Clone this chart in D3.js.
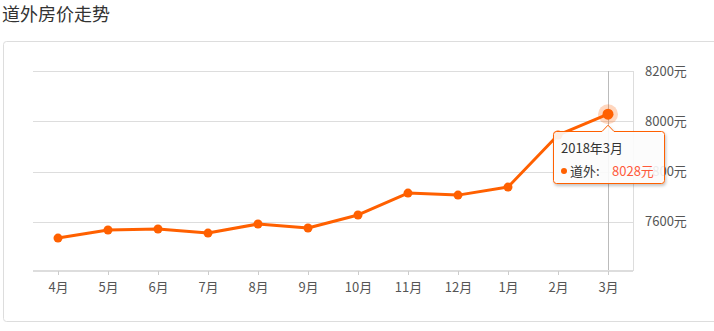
<!DOCTYPE html>
<head>
  <meta charset="utf-8">
  <script src="https://d3js.org/d3.v7.min.js"></script>
  <style>
    body { margin:0; background:#fff; font-family:"Noto Sans CJK SC", "Noto Sans", sans-serif; }
  </style>
</head>
<body>
<script>
  // data
  var title = "道外房价走势";
  var seriesName = "道外";
  var months = ["4月","5月","6月","7月","8月","9月","10月","11月","12月","1月","2月","3月"];
  var prices = [7535, 7567, 7571, 7555, 7591, 7575, 7627, 7714, 7706, 7738, 7945, 8028];
  var yTicks = [7600, 7800, 8000, 8200];
  var hoverLabel = "2018年3月";
  var hoverIndex = 11;

  var W = 714, H = 331;
  var svg = d3.select("body").append("svg")
    .attr("width", W).attr("height", H)
    .style("font-family", '"Noto Sans CJK SC", sans-serif');

  // title
  svg.append("text")
    .attr("x", 2).attr("y", 21)
    .style("font-size", "18px")
    .style("fill", "#333")
    .text(title);

  // panel
  svg.append("rect")
    .attr("x", 3.5).attr("y", 41.5)
    .attr("width", 720).attr("height", 280)
    .attr("rx", 3)
    .attr("fill", "#fff").attr("stroke", "#ddd");

  var plotL = 33, plotR = 633, plotT = 71, plotB = 271;

  var x = d3.scalePoint().domain(months).range([plotL, plotR]).padding(0.5);
  var y = d3.scaleLinear().domain([7404, 8200]).range([plotB, plotT]);

  // gridlines
  svg.append("g").selectAll("line").data(yTicks).enter()
    .append("line")
    .attr("x1", plotL).attr("x2", plotR)
    .attr("y1", function(d) { return Math.round(y(d)) + 0.5; })
    .attr("y2", function(d) { return Math.round(y(d)) + 0.5; })
    .attr("stroke", "#ddd");

  // right edge
  svg.append("line")
    .attr("x1", plotR + 0.5).attr("x2", plotR + 0.5)
    .attr("y1", plotT).attr("y2", plotB)
    .attr("stroke", "#ddd");

  // y labels
  svg.append("g").selectAll("text").data(yTicks).enter()
    .append("text")
    .attr("x", 645)
    .attr("y", function(d) { return y(d); })
    .attr("dy", "0.35em")
    .style("font-size", "13px")
    .style("fill", "#555")
    .text(function(d) { return d + "元"; });

  // crosshair
  svg.append("line")
    .attr("x1", Math.round(x(months[hoverIndex])) + 0.5)
    .attr("x2", Math.round(x(months[hoverIndex])) + 0.5)
    .attr("y1", plotT).attr("y2", plotB)
    .attr("stroke", "#bbb");

  // x axis
  var xAxis = svg.append("g")
    .attr("transform", "translate(0," + plotB + ")")
    .call(d3.axisBottom(x).tickSize(4).tickPadding(8));
  xAxis.select(".domain").attr("stroke", "#ddd").attr("stroke-width", 2)
    .attr("d", "M" + plotL + ",0H" + plotR);
  xAxis.selectAll(".tick line").attr("stroke", "#ccc");
  xAxis.selectAll(".tick text")
    .style("font-size", "13px")
    .style("fill", "#555")
    .style("font-family", '"Noto Sans CJK SC", sans-serif');

  // line
  var line = d3.line()
    .x(function(d, i) { return x(months[i]); })
    .y(function(d) { return y(d); });

  svg.append("path").datum(prices)
    .attr("d", line)
    .attr("fill", "none")
    .attr("stroke", "#ff6000")
    .attr("stroke-width", 3)
    .attr("stroke-linejoin", "round");

  svg.append("g").selectAll("circle").data(prices).enter()
    .append("circle")
    .attr("cx", function(d, i) { return x(months[i]); })
    .attr("cy", function(d) { return y(d); })
    .attr("r", 4.5)
    .attr("fill", "#ff6000");

  // hover point
  var hx = x(months[hoverIndex]), hy = y(prices[hoverIndex]);
  svg.append("circle").attr("cx", hx).attr("cy", hy).attr("r", 10)
    .attr("fill", "#ff6000").attr("fill-opacity", 0.25);
  svg.append("circle").attr("cx", hx).attr("cy", hy).attr("r", 5.5)
    .attr("fill", "#ff6000");

  // tooltip
  var defs = svg.append("defs");
  var f = defs.append("filter").attr("id", "sh").attr("x", "-10%").attr("y", "-10%")
    .attr("width", "130%").attr("height", "140%");
  f.append("feDropShadow").attr("dx", 1).attr("dy", 2).attr("stdDeviation", 1.5)
    .attr("flood-color", "#000").attr("flood-opacity", 0.25);

  var tx = 553.5, ty = 131.5, tw = 111, th = 52;
  var ax = hx, ay = hy + 11;
  var tipPath = "M" + (tx + 3) + "," + ty +
    "H" + (ax - 6) + "L" + ax + "," + ay + "L" + (ax + 6) + "," + ty +
    "H" + (tx + tw - 3) + "Q" + (tx + tw) + "," + ty + " " + (tx + tw) + "," + (ty + 3) +
    "V" + (ty + th - 3) + "Q" + (tx + tw) + "," + (ty + th) + " " + (tx + tw - 3) + "," + (ty + th) +
    "H" + (tx + 3) + "Q" + tx + "," + (ty + th) + " " + tx + "," + (ty + th - 3) +
    "V" + (ty + 3) + "Q" + tx + "," + ty + " " + (tx + 3) + "," + ty + "Z";
  svg.append("path")
    .attr("d", tipPath)
    .attr("fill", "rgba(255,255,255,0.88)")
    .attr("stroke", "#ff6000")
    .attr("filter", "url(#sh)");

  svg.append("text")
    .attr("x", 561).attr("y", 153)
    .style("font-size", "13px").style("fill", "#333")
    .text(hoverLabel);
  svg.append("circle").attr("cx", 564).attr("cy", 171).attr("r", 3)
    .attr("fill", "#ff6000");
  svg.append("text")
    .attr("x", 570).attr("y", 176)
    .style("font-size", "13px").style("fill", "#333")
    .text(seriesName + ":");
  svg.append("text")
    .attr("x", 612).attr("y", 176)
    .style("font-size", "13px").style("fill", "#ff5a3c")
    .text(prices[hoverIndex] + "元");
</script>
</body>
